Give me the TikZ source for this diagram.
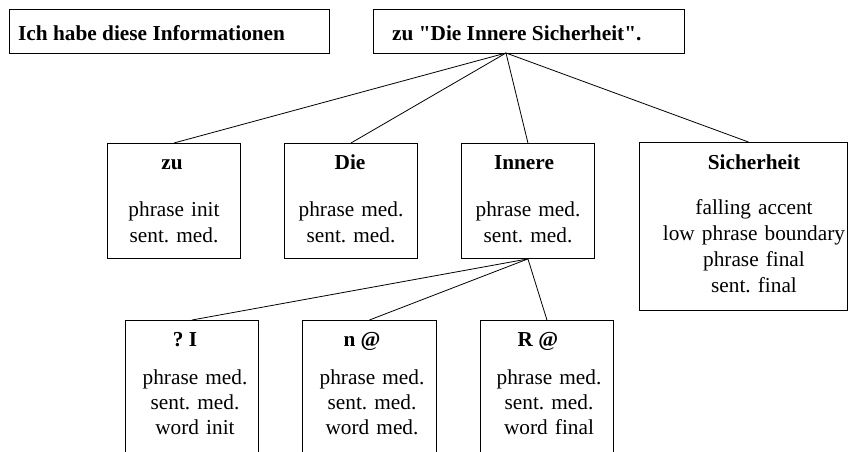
\documentclass[tikz,border=0pt]{standalone}
\usepackage{fontspec}
\setmainfont[Ligatures=TeXOff]{Liberation Serif}
\begin{document}
\frenchspacing
\begin{tikzpicture}[x=1pt,y=-1pt,
  box/.style={draw, line width=0.9pt, rectangle, inner sep=0pt, anchor=north west},
  link/.style={line width=0.8pt},
  head/.style={inner sep=0pt, font=\fontsize{21.3}{26}\selectfont\bfseries},
  body/.style={inner sep=0pt, anchor=base, text width=200pt, align=center,
               font=\fontsize{21.3}{26}\selectfont},
  lowbody/.style={body, font=\fontsize{21.3}{25.3}\selectfont}]
\useasboundingbox (0,0) rectangle (849,451);
\clip (0,0) rectangle (849,451);

% sentence boxes
\node[box, minimum width=320pt, minimum height=44pt] (s1) at (9,9) {};
\node[box, minimum width=311pt, minimum height=44pt] (s2) at (373,9) {};
\node[head, anchor=base west] (s1t) at (18,40) {Ich habe diese Informationen};
\node[head, anchor=base west] (s2t) at (392,40) {zu "Die Innere Sicherheit".};
\coordinate (hub) at (506,53);

% word boxes
\node[box, minimum width=133pt, minimum height=115pt] (zu) at (107,143) {};
\node[box, minimum width=133pt, minimum height=115pt] (die) at (284,143) {};
\node[box, minimum width=133pt, minimum height=115pt] (inn) at (461,143) {};
\node[box, minimum width=208pt, minimum height=168pt] (sich) at (639,142) {};

\node[head, anchor=base] (zut) at (172,169) {zu};
\node[body] (zub) at (174,216) {phrase init\\sent. med.};
\node[head, anchor=base] (diet) at (350,169) {Die};
\node[body] (dieb) at (351,216) {phrase med.\\sent. med.};
\node[head, anchor=base] (innt) at (524,169) {Innere};
\node[body] (innb) at (528,216) {phrase med.\\sent. med.};
\node[head, anchor=base] (sicht) at (754,169) {Sicherheit};
\node[body] (sichb) at (754,214) {falling accent\\low phrase boundary\\phrase final\\sent. final};

% syllable boxes (run past the lower edge)
\node[box, minimum width=133pt, minimum height=160pt] (s1b) at (125,320) {};
\node[box, minimum width=134pt, minimum height=160pt] (s2b) at (302,320) {};
\node[box, minimum width=133pt, minimum height=160pt] (s3b) at (480,320) {};

\node[head, anchor=base] (s1h) at (185,346) {? I};
\node[lowbody] (s1x) at (195,384) {phrase med.\\sent. med.\\word init};
\node[head, anchor=base] (s2h) at (362,346) {n @};
\node[lowbody] (s2x) at (372,384) {phrase med.\\sent. med.\\word med.};
\node[head, anchor=base] (s3h) at (538,346) {R @};
\node[lowbody] (s3x) at (549,384) {phrase med.\\sent. med.\\word final};

% connectors
\draw[link] (hub) -- (zu.north);
\draw[link] (hub) -- (die.north);
\draw[link] (hub) -- (inn.north);
\draw[link] (hub) -- ([xshift=5pt]sich.north);
\draw[link] (inn.south) -- (s1b.north);
\draw[link] (inn.south) -- (s2b.north);
\draw[link] (inn.south) -- (s3b.north);
\end{tikzpicture}
\end{document}
